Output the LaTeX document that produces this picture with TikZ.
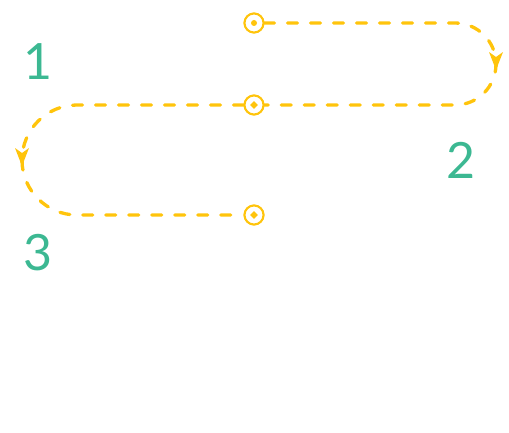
\documentclass[tikz,border=0pt]{standalone}
\usepackage{fontspec}
\newfontfamily\numfont{Lato}
\usetikzlibrary{decorations.markings}
\definecolor{routeyellow}{RGB}{255,196,12}
\definecolor{numgreen}{RGB}{60,184,146}
\tikzset{
  route/.style={draw=routeyellow, line width=3.3pt, line cap=round,
    dash pattern=on 10pt off 13pt,
    postaction={decorate},
    decoration={markings, mark=at position 0.5 with {\fill[routeyellow] (6pt,0) -- (-12pt,7pt) -- (-7pt,0) -- (-12pt,-7pt) -- cycle;}}},
  stop/.style={circle, draw=routeyellow, line width=2pt, fill=white, minimum size=19pt, inner sep=0pt},
  numlabel/.style={text=numgreen, font=\numfont\fontsize{50}{50}\selectfont, inner sep=0pt}
}
\begin{document}
\begin{tikzpicture}[x=1pt,y=1pt]
\useasboundingbox (0,0) rectangle (509,432);
\node[stop] (A) at (254,409) {};
\node[stop] (B) at (254,327) {};
\node[stop] (C) at (254,217) {};
\path[route] (A.east) -- (455,409) arc[start angle=90,end angle=-90,radius=41] -- (B.east);
\path[route] (B.west) -- (77,327) arc[start angle=90,end angle=270,radius=55] -- (C.west);
\node[stop] at (A) {};
\node[stop] at (B) {};
\node[stop] at (C) {};
\fill[routeyellow] (A) circle (3pt);
\fill[routeyellow] (B) ++(0,3.8) -- ++(3.8,-3.8) -- ++(-3.8,-3.8) -- ++(-3.8,3.8) -- cycle;
\fill[routeyellow] (C) ++(0,3.8) -- ++(3.8,-3.8) -- ++(-3.8,-3.8) -- ++(-3.8,3.8) -- cycle;
\node[numlabel] (n1) at (38,370) {1};
\node[numlabel] (n2) at (461,272) {2};
\node[numlabel] (n3) at (38,179) {3};
\end{tikzpicture}
\end{document}
